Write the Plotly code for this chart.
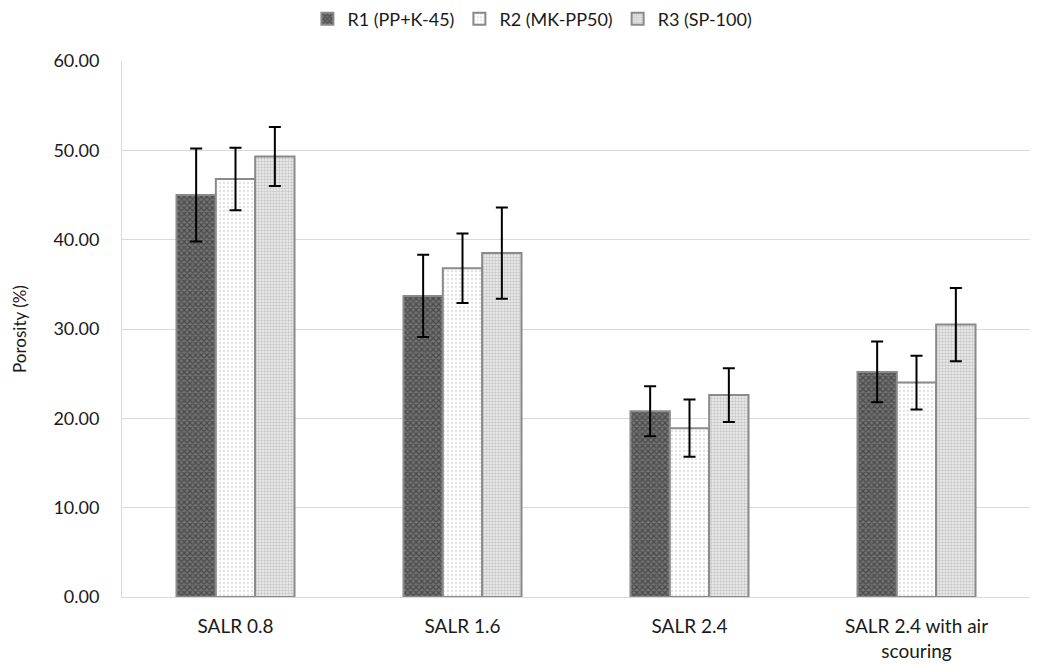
import plotly.graph_objects as go

categories = ["SALR 0.8", "SALR 1.6", "SALR 2.4", "SALR 2.4 with air<br>scouring"]
series_names = ["R1 (PP+K-45)", "R2 (MK-PP50)", "R3 (SP-100)"]
r1 = [45.0, 33.7, 20.8, 25.2]
r1_err = [5.2, 4.6, 2.8, 3.4]
r2 = [46.8, 36.8, 18.9, 24.0]
r2_err = [3.5, 3.9, 3.2, 3.0]
r3 = [49.3, 38.5, 22.6, 30.5]
r3_err = [3.3, 5.1, 3.0, 4.1]
y_ticks = [0, 10, 20, 30, 40, 50, 60]

styles = [
    dict(bg="#737373", fg="#1f1f1f", shape="x", size=4, solidity=0.5),
    dict(bg="#ffffff", fg="#c8c8c8", shape=".", size=4, solidity=0.3),
    dict(bg="#f0f0f0", fg="#a0a0a0", shape=".", size=3, solidity=0.5),
]

fig = go.Figure()
for name, vals, errs, st in zip(series_names, [r1, r2, r3], [r1_err, r2_err, r3_err], styles):
    fig.add_trace(go.Bar(
        x=categories, y=vals, name=name,
        marker=dict(
            color=st["bg"],
            line=dict(color="#8a8a8a", width=2),
            pattern=dict(shape=st["shape"], fgcolor=st["fg"], bgcolor=st["bg"],
                         size=st["size"], solidity=st["solidity"], fillmode="overlay"),
        ),
        error_y=dict(type="data", array=errs, visible=True, color="#000000",
                     thickness=2, width=6),
    ))

# The page body has an 8px default margin, so the figure is sized/margined to
# compensate and land the plot area where the reference has it.
font_family = "Lato, Calibri, Carlito, 'Open Sans', sans-serif"
txt = "#1a1a1a"
fig.update_layout(
    width=1036, height=656,
    paper_bgcolor="white", plot_bgcolor="white",
    margin=dict(l=114, r=14, t=53, b=67, autoexpand=False),
    barmode="group", bargap=0.48, bargroupgap=0,
    font=dict(family=font_family, size=18, color=txt),
    legend=dict(orientation="h", x=0.452, xanchor="center",
                yref="container", y=1 - 11 / 656, yanchor="middle",
                font=dict(size=18, color=txt), itemwidth=30, traceorder="normal"),
    showlegend=True,
)
fig.update_xaxes(
    showline=True, linecolor="#d9d9d9", linewidth=1, automargin=False,
    ticks="", tickfont=dict(size=19, color=txt), ticklabelstandoff=12,
)
fig.update_yaxes(
    range=[0, 60], tickvals=y_ticks, tickformat=".2f", automargin=False,
    showgrid=True, gridcolor="#d9d9d9", gridwidth=1,
    showline=True, linecolor="#d9d9d9", linewidth=1,
    zeroline=False, ticks="", ticklabelstandoff=18,
    tickfont=dict(size=18, color=txt),
    title=dict(text="Porosity (%)", font=dict(size=17, color=txt), standoff=22),
)

fig.write_html("out.html")
